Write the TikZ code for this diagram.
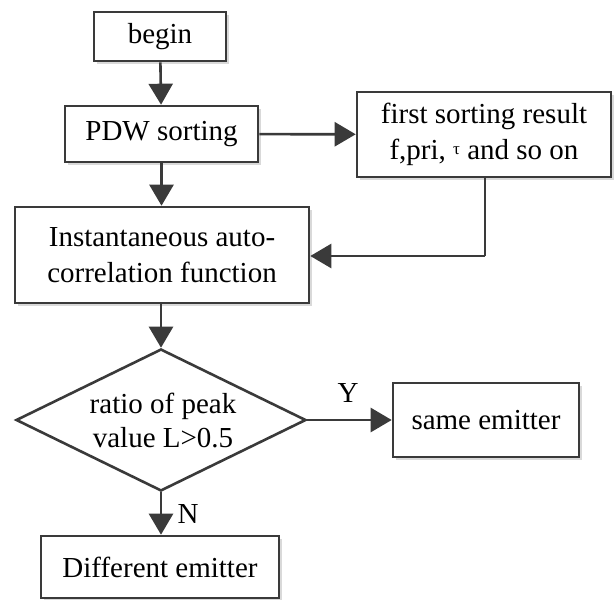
\documentclass[tikz,border=0pt]{standalone}
\usepackage{fontspec}
\setmainfont{Liberation Serif}
\usetikzlibrary{arrows.meta,shapes.geometric,shadows}
\definecolor{ln}{HTML}{3A3A3A}
\tikzset{
  box/.style={draw=ln, line width=2.6pt, fill=white, align=center, inner sep=0pt,
    drop shadow={shadow xshift=3pt, shadow yshift=-3pt, fill=black!15, opacity=1},
    font=\fontsize{29}{36}\selectfont},
  dia/.style={draw=ln, line width=2.6pt, diamond, inner sep=0pt, fill=white},
  txt/.style={align=center, inner sep=0pt, font=\fontsize{29}{34}\selectfont},
  conn/.style={draw=ln, line width=2.6pt, -{Triangle[length=21pt,width=24pt]}},
  lbl/.style={inner sep=0pt, font=\fontsize{29}{34}\selectfont}
}
\begin{document}
\begin{tikzpicture}[x=1pt,y=-1pt]
\useasboundingbox (0,0) rectangle (615,599);
\node[box, minimum width=132pt, minimum height=49pt] (begin) at (160,36.5) {begin};
\node[box, minimum width=193pt, minimum height=56pt] (pdw) at (161.5,134) {PDW sorting};
\node[box, minimum width=254pt, minimum height=85pt] (first) at (484,134.5)
  {first sorting result\\f,pri, \raisebox{5pt}{\fontsize{17}{17}\selectfont τ} and so on};
\node[box, minimum width=294pt, minimum height=96pt] (inst) at (162,255)
  {Instantaneous auto-\\correlation function};
\node[dia, minimum width=290pt, minimum height=142pt] (dec) at (161,420) {};
\node[txt] (dectext) at (163,420) {ratio of peak\\value L>0.5};
\node[box, minimum width=186pt, minimum height=74pt] (same) at (486,420) {same emitter};
\node[box, minimum width=238pt, minimum height=62pt] (diff) at (160,567) {Different emitter};
\coordinate (turn) at (485,256);
\draw[conn] (begin) -- (pdw);
\draw[conn] (pdw) -- (pdw |- inst.north);
\draw[conn] (pdw) -- (first);
\draw[draw=ln, line width=2.6pt] (first.south -| turn) -- (turn);
\draw[conn] (turn) -- (inst.east |- turn);
\draw[conn] (inst.south -| dec.north) -- (dec.north);
\draw[conn] (dec.east) -- (same.west |- dec.east);
\draw[conn] (dec.south) -- (dec.south |- diff.north);
\node[lbl] (ylab) at (348,393) {Y};
\node[lbl] (nlab) at (188,514) {N};
\end{tikzpicture}
\end{document}
